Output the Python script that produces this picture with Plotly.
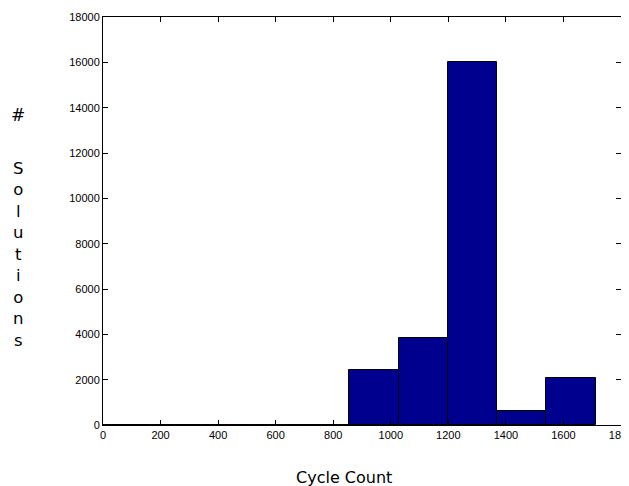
import plotly.graph_objects as go

bin_centers = [85.6, 256.8, 428.0, 599.2, 770.4, 941.6, 1112.8, 1284.0, 1455.2, 1626.4]
counts = [8, 5, 5, 5, 10, 2430, 3830, 16030, 620, 2070]
bin_width = 171.2
x_ticks = [0, 200, 400, 600, 800, 1000, 1200, 1400, 1600, 1800]
y_ticks = [0, 2000, 4000, 6000, 8000, 10000, 12000, 14000, 16000, 18000]

fig = go.Figure()
fig.add_trace(go.Bar(
    x=bin_centers, y=counts, width=[bin_width] * len(bin_centers),
    marker=dict(color="#00008F", line=dict(color="black", width=1)),
))

axis_common = dict(
    showgrid=False, zeroline=False, showline=True, linecolor="black", linewidth=1,
    mirror="ticks", ticks="inside", ticklen=5, tickcolor="black",
    ticklabeloverflow="allow", automargin=False,
    tickfont=dict(family="Liberation Sans, Arial", size=11, color="black"),
)
fig.update_xaxes(range=[0, 1800], tickvals=x_ticks, ticktext=[str(v) for v in x_ticks], **axis_common)
fig.update_yaxes(range=[0, 18000], tickvals=y_ticks, ticktext=[str(v) for v in y_ticks], **axis_common)

fig.add_annotation(text="#", xref="paper", yref="paper", x=-0.164, y=0.7586,
                   xanchor="center", yanchor="middle", showarrow=False,
                   font=dict(family="DejaVu Sans", size=17, color="black"))
fig.add_annotation(text="<br>".join(list("Solutions")), xref="paper", yref="paper", x=-0.164, y=0.419,
                   xanchor="center", yanchor="middle", showarrow=False,
                   font=dict(family="DejaVu Sans", size=16.5, color="black"))
fig.add_annotation(text="Cycle Count", xref="paper", yref="paper", x=0.465, y=-0.1275,
                   xanchor="center", yanchor="middle", showarrow=False,
                   font=dict(family="DejaVu Sans", size=16, color="black"))

fig.update_layout(
    width=625, height=478, margin=dict(l=95, r=12, t=9, b=61, autoexpand=False),
    plot_bgcolor="white", paper_bgcolor="white", bargap=0, showlegend=False,
)
fig.write_html("out.html")
